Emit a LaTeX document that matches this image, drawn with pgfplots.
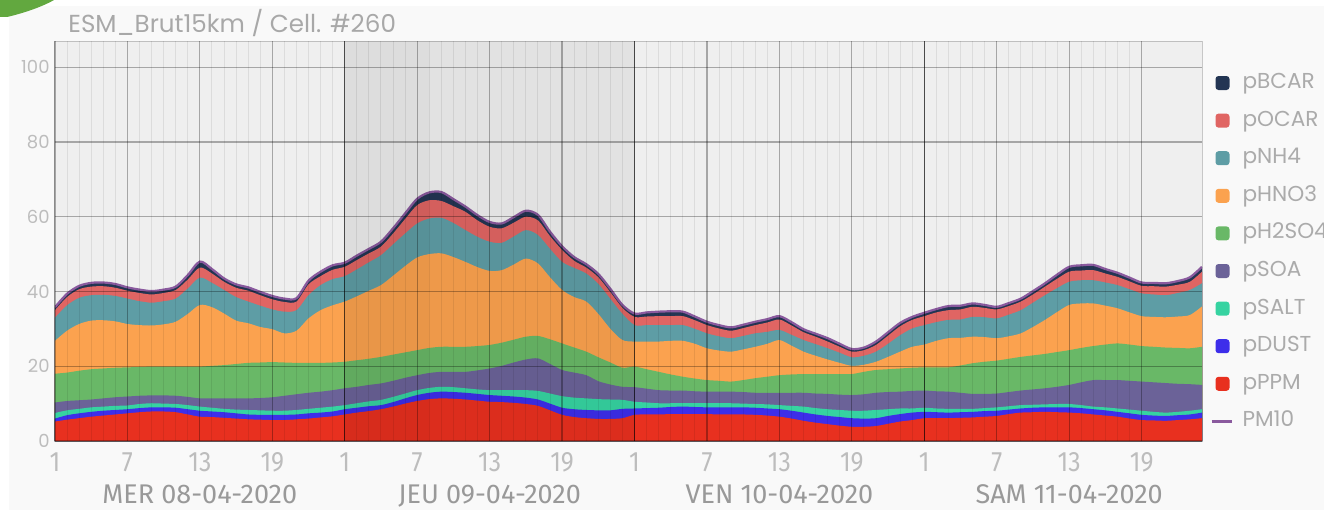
\documentclass[border=0pt]{standalone}
\usepackage{fontspec}
\setmainfont{Poppins}
\newfontfamily\condfont[FakeStretch=0.88]{Fira Sans}
\newfontfamily\datefont{Fira Sans}
\usepackage{pgfplots}
\pgfplotsset{compat=1.18}
\usepackage{pgfplotstable}

\definecolor{pagebg}{HTML}{F9F9F9}
\definecolor{plotbg}{HTML}{EFEFEF}
\definecolor{badge}{HTML}{62A83F}
\definecolor{titlegray}{HTML}{A8A8A8}
\definecolor{tickgray}{HTML}{BDBDBD}
\definecolor{dategray}{HTML}{999999}
\definecolor{legendgray}{HTML}{ABABAB}
\definecolor{cppm}{HTML}{E8301F}
\definecolor{cdust}{HTML}{3D2EEA}
\definecolor{csalt}{HTML}{36D3A1}
\definecolor{csoa}{HTML}{6B6298}
\definecolor{chso}{HTML}{69B867}
\definecolor{chno}{HTML}{FBA24F}
\definecolor{cnh}{HTML}{5E9DA5}
\definecolor{cocar}{HTML}{E06563}
\definecolor{cbcar}{HTML}{233553}
\definecolor{cpm}{HTML}{8A5A9E}

% upper edge of each band (cumulative, ug/m3), hour index 0..95 (4 days)
% bcar = top of the stack = PM10
\pgfplotstableread{
i  ppm  dust salt soa  hso  hno  nh   ocar bcar
0  5.2  6.0  7.5  10.3 18.0 26.8 33.0 35.0 35.8
1  5.7  6.9  8.2  10.7 18.3 29.5 36.3 38.5 39.4
2  6.1  7.4  8.6  10.9 18.8 31.3 38.3 40.6 41.5
3  6.5  7.8  9.0  11.1 19.2 32.2 39.0 41.3 42.3
4  6.8  8.1  9.2  11.4 19.4 32.3 39.1 41.4 42.4
5  7.1  8.3  9.4  11.7 19.6 32.0 38.8 41.0 42.0
6  7.4  8.5  9.5  11.9 19.7 31.3 38.1 40.2 41.1
7  7.7  8.8  9.9  12.1 19.8 31.0 37.4 39.6 40.5
8  7.9  9.0  10.1 12.2 19.9 30.9 37.0 39.2 40.1
9  7.9  9.0  10.0 12.2 19.9 31.2 37.4 39.6 40.5
10 7.7  8.9  9.9  12.1 19.9 31.9 38.1 40.4 41.3
11 7.1  8.5  9.6  11.8 19.9 34.0 40.8 43.2 44.4
12 6.5  8.1  9.2  11.4 19.9 36.4 43.7 46.4 48.0
13 6.4  7.9  8.9  11.4 20.1 35.8 42.3 44.8 46.0
14 6.2  7.7  8.6  11.4 20.3 34.1 40.4 42.6 43.5
15 6.0  7.4  8.4  11.4 20.6 32.2 38.5 41.0 41.9
16 5.8  7.1  8.3  11.4 20.9 31.5 37.3 40.2 41.1
17 5.7  7.0  8.2  11.5 21.0 30.5 36.2 39.0 39.9
18 5.6  7.0  8.1  11.7 21.1 29.9 35.2 37.9 38.8
19 5.6  7.0  8.1  12.1 21.0 28.8 34.6 37.2 38.1
20 5.8  7.1  8.3  12.5 20.9 29.5 35.0 37.3 38.2
21 6.0  7.4  8.6  12.9 20.9 32.8 39.0 41.9 42.9
22 6.3  7.6  8.9  13.2 20.9 35.0 41.7 44.1 45.3
23 6.6  7.9  9.2  13.6 21.0 36.3 43.3 45.8 47.0
24 7.1  8.5  9.6  14.1 21.2 37.3 44.1 46.6 47.7
25 7.6  8.9  10.1 14.5 21.6 38.7 45.9 48.4 49.6
26 8.0  9.3  10.6 15.0 22.0 40.2 47.8 50.2 51.4
27 8.5  9.6  11.0 15.4 22.5 41.7 49.7 52.0 53.3
28 9.2  10.4 11.8 16.1 23.1 44.2 52.6 55.5 56.9
29 10.0 11.4 12.7 16.9 23.7 46.8 55.5 59.4 60.9
30 10.7 12.3 13.6 17.6 24.3 49.1 58.2 63.1 64.8
31 11.2 12.9 14.2 18.2 24.9 50.0 59.5 64.4 66.5
32 11.4 13.2 14.5 18.5 25.2 50.2 59.7 64.2 66.6
33 11.3 13.1 14.4 18.5 25.2 49.2 58.3 62.8 64.7
34 11.1 12.9 14.1 18.5 25.2 47.9 56.4 61.3 62.7
35 10.8 12.6 13.8 18.9 25.4 46.5 54.6 59.0 60.4
36 10.5 12.3 13.6 19.4 25.7 45.5 53.3 57.3 58.6
37 10.4 12.1 13.6 20.1 26.3 45.7 53.0 56.9 58.2
38 10.2 11.9 13.6 21.0 27.1 47.2 54.7 58.4 59.9
39 9.9  11.6 13.6 21.8 27.9 48.8 56.4 60.0 61.6
40 9.4  11.1 13.4 22.1 28.1 47.5 55.1 59.0 60.5
41 8.2  10.0 12.7 20.6 27.2 43.8 51.4 54.8 56.0
42 7.0  8.9  12.0 19.0 26.1 40.4 47.9 51.1 52.1
43 6.4  8.5  11.6 18.3 25.0 38.5 46.3 48.2 49.2
44 6.1  8.3  11.4 17.6 23.9 37.3 44.8 46.4 47.3
45 5.9  8.2  11.2 16.0 22.4 34.0 42.0 43.8 44.7
46 5.9  8.2  11.1 15.1 21.0 30.0 38.0 39.8 40.7
47 6.1  8.6  11.0 14.5 19.6 27.0 34.0 35.6 36.4
48 7.0  8.7  10.5 14.4 19.9 26.6 31.0 33.2 34.1
49 7.1  8.8  10.3 14.0 19.2 26.6 31.0 33.3 34.4
50 7.1  8.9  10.1 13.6 18.5 26.6 31.0 33.4 34.6
51 7.2  9.1  10.1 13.5 17.8 26.8 31.0 33.4 34.7
52 7.2  9.2  10.1 13.5 17.2 26.8 31.0 33.4 34.6
53 7.2  9.1  10.1 13.3 16.7 26.0 30.0 32.3 33.3
54 7.2  9.0  10.1 13.2 16.3 24.8 28.8 31.0 31.9
55 7.1  9.0  10.1 13.2 16.1 24.2 28.0 30.1 31.0
56 7.1  9.0  10.1 13.2 15.9 23.9 27.5 29.5 30.4
57 7.1  9.0  10.0 13.1 16.3 24.5 28.1 30.2 31.1
58 7.0  8.9  9.9  12.9 16.8 25.2 28.8 31.0 31.9
59 6.8  8.7  9.8  12.9 17.2 26.0 29.2 31.7 32.6
60 6.5  8.5  9.6  12.9 17.6 27.0 29.7 32.5 33.4
61 6.0  8.1  9.4  12.9 17.8 25.5 28.4 30.9 31.8
62 5.4  7.6  9.2  12.9 17.9 23.9 27.0 29.1 29.9
63 4.9  7.1  8.8  12.7 17.9 22.8 25.9 27.9 28.7
64 4.5  6.7  8.5  12.6 17.9 21.8 24.8 26.6 27.5
65 4.1  6.4  8.3  12.4 17.9 20.9 23.6 25.2 26.0
66 3.8  6.1  8.1  12.3 17.9 20.1 22.4 23.9 24.6
67 3.8  6.0  8.1  12.5 18.5 20.4 22.8 24.3 25.0
68 4.0  6.1  8.3  12.9 19.0 21.2 23.9 25.7 26.6
69 4.6  6.7  8.5  13.1 19.2 22.5 26.0 28.2 29.1
70 5.2  7.2  8.7  13.2 19.4 23.9 28.3 30.7 31.6
71 5.6  7.6  8.7  13.4 19.6 25.2 30.1 32.4 33.2
72 6.1  7.8  8.9  13.5 19.7 25.8 31.0 33.4 34.3
73 6.1  7.7  8.7  13.3 19.7 26.8 31.8 34.4 35.3
74 6.1  7.6  8.6  13.2 19.7 27.5 32.4 35.0 36.1
75 6.2  7.7  8.6  12.9 20.2 27.6 32.5 35.2 36.2
76 6.3  7.8  8.6  12.6 20.8 27.9 33.2 35.9 36.8
77 6.5  8.0  8.8  12.6 21.2 27.8 33.1 35.6 36.4
78 6.7  8.1  9.0  12.7 21.5 27.5 32.8 35.2 35.9
79 7.2  8.4  9.3  13.1 22.0 28.0 33.8 36.1 36.9
80 7.6  8.7  9.6  13.5 22.5 28.8 35.0 37.3 38.1
81 7.7  8.9  9.7  13.8 22.9 30.5 37.0 39.2 40.1
82 7.8  9.0  9.8  14.1 23.3 32.4 39.0 41.3 42.2
83 7.7  9.0  9.9  14.5 23.8 34.5 40.9 43.4 44.5
84 7.6  9.0  9.9  15.0 24.3 36.4 42.6 45.3 46.6
85 7.4  8.8  9.6  15.7 24.9 36.8 43.0 45.6 47.0
86 7.1  8.5  9.2  16.3 25.4 36.8 43.0 45.7 47.1
87 6.8  8.2  9.0  16.3 25.8 36.2 42.4 44.8 46.0
88 6.5  7.8  8.7  16.3 26.1 35.5 41.7 43.9 45.0
89 6.0  7.4  8.4  16.1 25.8 34.4 40.6 42.7 43.7
90 5.6  7.0  8.1  15.9 25.4 33.4 39.5 41.5 42.4
91 5.5  6.8  7.8  15.7 25.2 33.2 39.2 41.4 42.3
92 5.4  6.7  7.6  15.5 25.0 33.1 39.0 41.3 42.2
93 5.6  6.9  7.8  15.3 24.9 33.3 39.6 41.8 42.8
94 5.8  7.1  8.1  15.2 24.8 33.7 40.4 42.6 43.8
95 6.1  7.6  8.5  15.0 25.2 36.0 42.2 45.3 46.6
}\cells

\pgfplotsset{
  band/.style={fill=#1, draw=none, smooth,
    legend image code/.code={\fill[#1, rounded corners=1.5pt] (0pt,-3.5pt) rectangle (7pt,3.5pt);}},
}

\begin{document}
\begin{tikzpicture}
\useasboundingbox (0,0) rectangle (662pt,255pt);
\fill[white] (0,0) rectangle (662pt,255pt);
\fill[pagebg] (4.5pt,0) rectangle (662pt,252pt);
\fill[badge] (0,255pt) -- (27pt,255pt) .. controls (20pt,251pt) and (10pt,248pt) .. (3.5pt,246.5pt) -- (0,246.5pt) -- cycle;
\node[anchor=base west, font=\fontsize{12.3}{12.3}\selectfont, text=titlegray, inner sep=0pt]
  at (34pt,238.6pt) {ESM\_Brut15km / Cell. \#260};

\begin{axis}[
  at={(27.5pt,34.5pt)}, anchor=south west,
  scale only axis, width=573.5pt, height=200pt,
  xmin=0, xmax=95, ymin=0, ymax=107,
  xtick={0,6,...,90},
  xticklabels={1,7,13,19,1,7,13,19,1,7,13,19,1,7,13,19},
  minor x tick num=5,
  ytick={0,20,...,100},
  grid=both,
  major grid style={line width=0.6pt, black, opacity=0.3},
  minor grid style={line width=0.5pt, black, opacity=0.08},
  extra x ticks={24,48,72}, extra x tick labels={},
  extra x tick style={major grid style={line width=0.6pt, black, opacity=0.55}},
  major tick length=0pt, minor tick length=0pt,
  axis line style={line width=0.5pt, black, opacity=0.2},
  axis background/.style={fill=plotbg},
  axis on top,
  /pgf/number format/assume math mode=true,
  yticklabel style={font=\fontsize{9}{9}\selectfont, text=tickgray, inner sep=0pt, xshift=-2.5pt},
  xticklabel style={font=\condfont\fontsize{14}{14}\selectfont, text=tickgray, inner sep=0pt, yshift=-5.5pt},
  legend cell align=left,
  legend style={at={(1,1)}, anchor=north west, xshift=4pt, yshift=-16pt,
    draw=none, fill=none, inner sep=0pt,
    font=\fontsize{10.8}{10.8}\selectfont, text=legendgray,
    row sep=9.2pt, column sep=5pt,
    nodes={inner sep=0pt, text height=7.5pt, text depth=2.1pt}},
]
\addplot[band=cbcar] table[x=i, y=bcar] {\cells} \closedcycle;
\addlegendentry{pBCAR}
\addplot[band=cocar] table[x=i, y=ocar] {\cells} \closedcycle;
\addlegendentry{pOCAR}
\addplot[band=cnh] table[x=i, y=nh] {\cells} \closedcycle;
\addlegendentry{pNH4}
\addplot[band=chno] table[x=i, y=hno] {\cells} \closedcycle;
\addlegendentry{pHNO3}
\addplot[band=chso] table[x=i, y=hso] {\cells} \closedcycle;
\addlegendentry{pH2SO4}
\addplot[band=csoa] table[x=i, y=soa] {\cells} \closedcycle;
\addlegendentry{pSOA}
\addplot[band=csalt] table[x=i, y=salt] {\cells} \closedcycle;
\addlegendentry{pSALT}
\addplot[band=cdust] table[x=i, y=dust] {\cells} \closedcycle;
\addlegendentry{pDUST}
\addplot[band=cppm] table[x=i, y=ppm] {\cells} \closedcycle;
\addlegendentry{pPPM}
\addplot[cpm, line width=1.1pt, smooth,
  legend image code/.code={\draw[cpm, line width=1.1pt] (-2pt,0pt) -- (8pt,0pt);}]
  table[x=i, y=bcar] {\cells};
\addlegendentry{PM10}
% shaded second day, a little darker on its left edge
\fill[black, opacity=0.05] (axis cs:24,0) rectangle (axis cs:48,107);
\fill[black, opacity=0.02] (axis cs:24,0) rectangle (axis cs:31,107);
\end{axis}

\foreach \cx/\lab in {99.9/MER 08-04-2020, 244.8/JEU 09-04-2020, 389.7/VEN 10-04-2020, 534.6/SAM 11-04-2020}
  \node[anchor=base, font=\datefont\fontsize{13.5}{13.5}\selectfont, text=dategray, inner sep=0pt] at (\cx pt,3.2pt) {\lab};
\end{tikzpicture}
\end{document}
